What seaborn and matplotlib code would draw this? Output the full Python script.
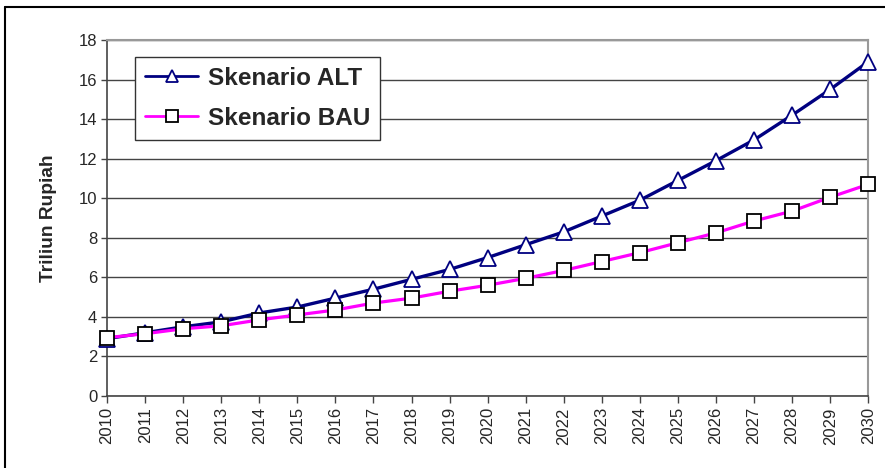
import numpy as np
import pandas as pd
import matplotlib.pyplot as plt
import seaborn as sns
from matplotlib.lines import Line2D

# Data
years = list(range(2010, 2031))
alt_values = [2.9, 3.2, 3.5, 3.75, 4.2, 4.5, 4.95, 5.4, 5.9, 6.4, 7.0,
              7.65, 8.3, 9.1, 9.9, 10.9, 11.9, 12.95, 14.2, 15.5, 16.9]
bau_values = [2.95, 3.15, 3.4, 3.55, 3.85, 4.1, 4.35, 4.7, 4.95, 5.3, 5.6,
              5.95, 6.35, 6.8, 7.25, 7.75, 8.25, 8.85, 9.35, 10.05, 10.7]
series_names = ['Skenario ALT', 'Skenario BAU']

df = pd.DataFrame({'Tahun': years, 'ALT': alt_values, 'BAU': bau_values})

sns.set_style('white')
plt.rcParams['font.family'] = ['Liberation Sans', 'DejaVu Sans']

fig = plt.figure(figsize=(8.85, 4.68), dpi=100)
ax = fig.add_axes([0.121, 0.1538, 0.86, 0.7607])

# gridlines
for v in range(0, 19, 2):
    ax.axhline(v, color='#444444', lw=1.0, zorder=0)

sns.lineplot(data=df, x='Tahun', y='ALT', ax=ax, color='#000080', lw=2.4,
             marker='^', markersize=11, markerfacecolor='white',
             markeredgecolor='#000080', markeredgewidth=1.3,
             label=series_names[0], zorder=3, clip_on=False)
sns.lineplot(data=df, x='Tahun', y='BAU', ax=ax, color='#FF00FF', lw=2.3,
             marker='s', markersize=10, markerfacecolor='white',
             markeredgecolor='black', markeredgewidth=1.3,
             label=series_names[1], zorder=4, clip_on=False)

ax.set_xlim(2010, 2030)
ax.set_ylim(0, 18)
ax.set_yticks(range(0, 19, 2))
ax.set_xticks(years)
ax.set_xticklabels([str(y) for y in years], rotation=90, fontsize=12)
ax.tick_params(axis='y', labelsize=12, length=4, direction='out', left=True,
               width=1, color='#444444', pad=3)
ax.tick_params(axis='x', length=5, direction='out', bottom=True, width=1,
               color='#444444', pad=3)
ax.set_xlabel('')
ax.set_ylabel('Triliun Rupiah', fontsize=13.8, fontweight='bold', labelpad=16)

for side in ['top', 'right']:
    ax.spines[side].set_color('#999999')
    ax.spines[side].set_linewidth(1.5)
for side in ['left', 'bottom']:
    ax.spines[side].set_color('#444444')
    ax.spines[side].set_linewidth(1.2)

leg = ax.legend(loc='upper left', bbox_to_anchor=(0.037, 0.952), frameon=True,
                fancybox=False, edgecolor='#333333', framealpha=1,
                prop={'weight': 'bold', 'size': 17.5}, handlelength=2.2,
                borderpad=0.4, labelspacing=0.7, handletextpad=0.4,
                borderaxespad=0)
leg.get_frame().set_linewidth(1.0)
for h in leg.get_lines():
    h.set_markersize(8)
    h.set_linewidth(2)

# outer frame: only left and top edges visible in the picture
x0, y0 = 5 / 885, 1 - 7 / 468
fig.lines.append(Line2D([x0, x0], [0, y0], transform=fig.transFigure,
                        color='black', lw=1.5))
fig.lines.append(Line2D([x0, 1], [y0, y0], transform=fig.transFigure,
                        color='black', lw=1.5))

fig.savefig('out.png', dpi=100)
